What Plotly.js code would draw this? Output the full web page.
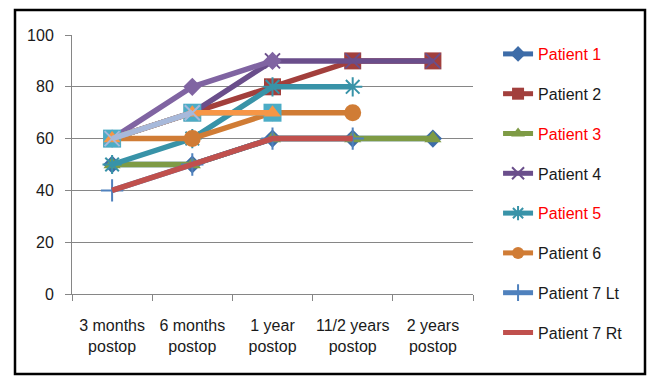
<!DOCTYPE html>
<html>
<head>
<meta charset="utf-8">
<script src="https://cdn.plot.ly/plotly-3.0.1.min.js"></script>
<style>html,body{margin:0;padding:0;background:#fff;}#chart{width:653px;height:376px;}</style>
</head>
<body>
<div id="chart"></div>
<script>
// Categories (x axis)
const categories = ["3 months<br>postop", "6 months<br>postop", "1 year<br>postop", "11/2 years<br>postop", "2 years<br>postop"];

// Named series (legend)
const patient1 = [50, 50, 60, 60, 60];
const patient2 = [60, 70, 80, 90, 90];
const patient3 = [50, 50, 60, 60, 60];
const patient4 = [60, 70, 90, 90, 90];
const patient5 = [50, 60, 80, 80, null];
const patient6 = [60, 60, 70, 70, null];
const patient7Lt = [40, 50, 60, 60, null];
const patient7Rt = [40, 50, 60, 60, null];

// Unlabelled extra series visible in the chart
const extraPurple = [60, 80, 90, null, null];
const extraCyan = [60, 70, 70, null, null];
const extraOrange = [60, 70, 70, null, null];
const extraLightBlue = [60, 70, null, null, null];

const yTicks = [0, 20, 40, 60, 80, 100];

function tr(name, y, color, symbol, msize, open, group) {
  const t = {
    type: 'scatter', mode: symbol ? 'lines+markers' : 'lines',
    x: categories, y: y, name: name,
    line: {color: color, width: 5.5},
    connectgaps: false,
    cliponaxis: false
  };
  if (symbol) {
    t.marker = open
      ? {symbol: symbol, size: msize, color: color, line: {color: color, width: 2}}
      : {symbol: symbol, size: msize, color: color};
  }
  if (group) { t.legendgroup = group; } else { t.showlegend = false; }
  return t;
}
const red = (s) => '<span style="color:#FF0000">' + s + '</span>';

const data = [
  tr(red('Patient 1'), patient1, '#3D6CA8', 'diamond', 14, false, 'g1'),
  tr('Patient 2', patient2, '#A23F3C', 'square', 17, false, 'g2'),
  tr(red('Patient 3'), patient3, '#7E9B45', 'triangle-up', 15, false, 'g3'),
  tr('Patient 4', patient4, '#6A4E8B', 'x-thin-open', 15, true, 'g4'),
  tr(red('Patient 5'), patient5, '#3893A8', 'asterisk-open', 16, true, 'g5'),
  tr('Patient 6', patient6, '#D07C35', 'circle', 17, false, 'g6'),
  tr('Patient 7 Lt', patient7Lt, '#4F81BD', 'cross-thin-open', 16, true, 'g7'),
  tr('Patient 7 Rt', patient7Rt, '#C0504D', null, 0, false, 'g8'),
  tr('extra purple', extraPurple, '#8064A2', 'diamond', 14, false, null),
  tr('extra cyan', extraCyan, '#4BACC6', 'square', 18, false, null),
  tr('extra orange', extraOrange, '#F79646', 'triangle-up', 15, false, null),
  tr('extra light blue', extraLightBlue, '#A7B9DB', 'x-thin-open', 15, true, null)
];

const font = "'Liberation Sans', Arial, sans-serif";
const layout = {
  width: 653, height: 376,
  margin: {l: 72, r: 180, t: 35, b: 82},
  paper_bgcolor: '#ffffff', plot_bgcolor: '#ffffff',
  font: {family: font, size: 16, color: '#1a1a1a'},
  showlegend: true,
  legend: {
    x: 1.055 + 3 / 401, xanchor: 'left', y: (294 - 37) / 259, yanchor: 'top',
    font: {family: font, size: 16, color: '#1a1a1a'},
    traceorder: 'grouped', tracegroupgap: 16,
    itemwidth: 30, itemsizing: 'constant', bgcolor: 'rgba(0,0,0,0)',
    maxheight: 360
  },
  xaxis: {
    type: 'category', tickson: 'boundaries', tickangle: 0,
    ticks: 'outside', ticklen: 6, tickcolor: '#868686',
    ticklabelstandoff: 17,
    showline: true, linecolor: '#868686', linewidth: 1,
    showgrid: false, zeroline: false,
    tickfont: {family: font, size: 16, color: '#1a1a1a'},
    range: [-0.5, 4.5]
  },
  yaxis: {
    range: [0, 100], tickvals: yTicks, ticktext: yTicks.map(String),
    ticks: 'outside', ticklen: 6, tickcolor: '#868686',
    ticklabelstandoff: 8,
    showline: true, linecolor: '#868686', linewidth: 1,
    showgrid: true, gridcolor: '#868686', gridwidth: 1,
    zeroline: false,
    tickfont: {family: font, size: 16, color: '#1a1a1a'}
  },
  shapes: [
    {type: 'rect', xref: 'paper', yref: 'paper',
     x0: (15 - 72) / 401, x1: (645 - 72) / 401,
     y0: (294 - 374) / 259, y1: (294 - 10) / 259,
     line: {color: '#000000', width: 2.5}, fillcolor: 'rgba(0,0,0,0)', layer: 'above'}
  ]
};

Plotly.newPlot('chart', data, layout, {displayModeBar: false, staticPlot: true});
</script>
</body>
</html>
